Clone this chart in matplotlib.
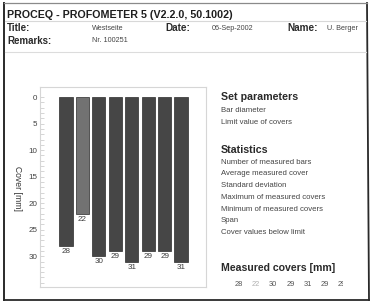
import numpy as np
import matplotlib
matplotlib.use("Agg")
import matplotlib.pyplot as plt
from matplotlib.lines import Line2D
from matplotlib.transforms import Bbox

plt.rcParams["font.family"] = ["Liberation Sans", "DejaVu Sans"]

W, H = 371, 302

# data
covers = [28, 22, 30, 29, 31, 29, 29, 31]
below_limit = [False, True, False, False, False, False, False, False]
yticks_major = [0, 5, 10, 15, 20, 25, 30]

header_title = "PROCEQ - PROFOMETER 5 (V2.2.0, 50.1002)"
header_fields = [("Title:", "Westseite"), ("Remarks:", "Nr. 100251")]
date_value = "06-Sep-2002"
name_value = "U. Berger"
set_params = ["Bar diameter", "Limit value of covers"]
stats_lines = ["Number of measured bars", "Average measured cover", "Standard deviation",
               "Maximum of measured covers", "Minimum of measured covers", "Span",
               "Cover values below limit"]

fig = plt.figure(figsize=(W / 100, H / 100), dpi=100)
fig.patch.set_facecolor("white")


def px(x, y):
    return x / W, 1 - y / H


def txt(x, y, s, size=6, bold=False, color="#2a2a2a", **kw):
    fx, fy = px(x, y)
    return fig.text(fx, fy, s, fontsize=size, fontweight="bold" if bold else "normal",
                    color=color, va="center", ha=kw.pop("ha", "left"), **kw)


# outer frame (scanned page border)
def fline(x0, y0, x1, y1, color, lw):
    a, b = px(x0, y0)
    c, d = px(x1, y1)
    fig.add_artist(Line2D([a, c], [b, d], color=color, lw=lw, transform=fig.transFigure))


fline(4, 3, 4, 300, "#2a2a2a", 1.4)
fline(367, 3, 369, 300, "#2a2a2a", 1.3)
fline(4, 300, 369, 300, "#2a2a2a", 1.3)
fline(4, 3, 367, 3, "#8a8a8a", 0.9)
fline(5, 21, 366, 21, "#d8d8d8", 0.8)
fline(5, 52, 366, 52, "#dcdcdc", 0.8)

# header
txt(7, 15.5, header_title, size=7.7, bold=True, color="#1e1e1e")
for i, (lab, val) in enumerate(header_fields):
    txt(7, 28 + 13 * i, lab, size=7.0, bold=True)
    txt(92, 28 + 13 * i, val, size=5.2, color="#444444")
txt(165, 28, "Date:", size=7.2, bold=True)
txt(212, 28, date_value, size=5.2, color="#444444")
txt(287, 28, "Name:", size=7.2, bold=True)
txt(327, 28, name_value, size=5.2, color="#444444")

# bar chart
ax = fig.add_axes([40 / W, (H - 287) / H, 166 / W, 200 / H])
x = np.arange(len(covers))
colors = ["#727272" if b else "#464646" for b in below_limit]
ax.bar(x, covers, width=0.8, bottom=0, color=colors, edgecolor="#2b2b2b", linewidth=0.5)
for xi, v in zip(x, covers):
    ax.annotate(str(v), (xi, v), xytext=(0, -1.5), textcoords="offset points",
                ha="center", va="top", fontsize=5.8, color="#3a3a3a")
ax.set_xlim(-1.58, 8.52)
ax.set_ylim(35.8, -1.9)
ax.set_xticks([])
ax.set_yticks(yticks_major)
ax.set_yticks(np.arange(0, 36, 1), minor=True)
ax.tick_params(axis="y", which="both", direction="in", length=3, width=0.6,
               color="#cfcfcf", labelsize=5.8, labelcolor="#404040", pad=2)
for s in ax.spines.values():
    s.set_color("#d6d6d6")
    s.set_linewidth(0.8)
txt(17, 188, "Cover [mm]", size=6.2, rotation=270, ha="center", color="#333333")

# right-hand text block
txt(221, 97, "Set parameters", size=7.7, bold=True)
for i, s in enumerate(set_params):
    txt(221, 111 + 12 * i, s, size=5.6, color="#444444")
txt(221, 150, "Statistics", size=7.7, bold=True)
for i, s in enumerate(stats_lines):
    txt(221, 162 + 11.8 * i, s, size=5.6, color="#444444")
txt(221, 268, "Measured covers [mm]", size=7.6, bold=True)

clip = Bbox.from_extents(0, 0, 343, H)
for i, (v, b) in enumerate(zip(covers, below_limit)):
    t = txt(238.5 + 17.3 * i, 285, str(v), size=5.4, ha="center",
            color="#b0b0b0" if b else "#555555")
    t.set_clip_on(True)
    t.set_clip_box(clip)

fig.savefig("out.png", dpi=100)
